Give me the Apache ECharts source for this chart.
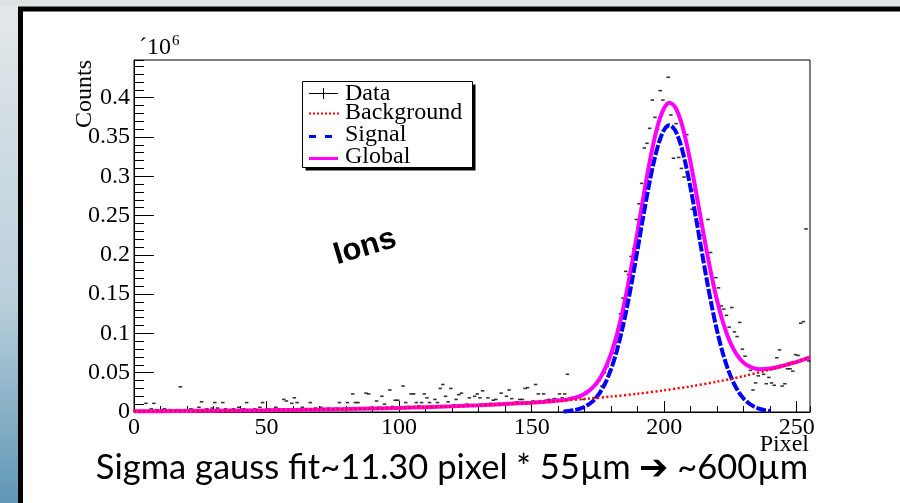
<!DOCTYPE html>
<html>
<head>
<meta charset="utf-8">
<script src="https://cdn.jsdelivr.net/npm/echarts@6/dist/echarts.min.js"></script>
<style>
html,body{margin:0;padding:0;background:#fff;}
#main{width:900px;height:503px;}
</style>
</head>
<body>
<div id="main"></div>
<script>
// counts per pixel bin (x 1e6), bins 0..254
var counts = [
 0.002,0.001,0.002,0.001,0.011,0.002,0.004,0.011,0.003,0.002,
 0.003,0.004,0.002,0.003,0.001,0.002,0.003,0.032,0.002,0.003,
 0.002,0.004,0.003,0.002,0.006,0.013,0.003,0.004,0.002,0.005,
 0.012,0.005,0.003,0.012,0.004,0.003,0.003,0.004,0.002,0.006,
 0.003,0.004,0.012,0.003,0.002,0.004,0.003,0.006,0.012,0.003,
 0.004,0.003,0.002,0.006,0.004,0.003,0.016,0.014,0.003,0.011,
 0.018,0.012,0.004,0.006,0.003,0.004,0.012,0.003,0.005,0.004,
 0.006,0.003,0.004,0.005,0.003,0.004,0.005,0.012,0.004,0.005,
 0.012,0.004,0.023,0.012,0.012,0.005,0.004,0.024,0.023,0.006,
 0.005,0.014,0.006,0.020,0.010,0.006,0.028,0.007,0.015,0.015,
 0.006,0.033,0.012,0.007,0.023,0.023,0.012,0.008,0.012,0.023,
 0.018,0.012,0.008,0.016,0.012,0.030,0.035,0.020,0.013,0.030,
 0.009,0.016,0.022,0.024,0.009,0.010,0.018,0.009,0.020,0.023,
 0.018,0.027,0.010,0.018,0.011,0.015,0.016,0.011,0.024,0.011,
 0.020,0.028,0.017,0.012,0.013,0.016,0.016,0.030,0.031,0.013,
 0.014,0.035,0.023,0.014,0.023,0.015,0.016,0.015,0.017,0.016,
 0.023,0.018,0.023,0.048,0.018,0.017,0.018,0.019,0.020,0.016,
 0.023,0.026,0.030,0.018,0.036,0.040,0.033,0.050,0.058,0.052,
 0.075,0.088,0.105,0.125,0.145,0.179,0.175,0.198,0.208,0.245,
 0.265,0.291,0.336,0.342,0.361,0.397,0.375,0.360,0.409,0.397,
 0.389,0.426,0.378,0.323,0.367,0.324,0.310,0.299,0.353,0.325,
 0.258,0.283,0.270,0.240,0.225,0.215,0.245,0.203,0.165,0.171,
 0.158,0.135,0.131,0.123,0.108,0.133,0.102,0.096,0.114,0.080,
 0.071,0.060,0.053,0.028,0.037,0.046,0.055,0.048,0.036,0.044,
 0.037,0.034,0.069,0.079,0.033,0.036,0.055,0.055,0.052,0.073,
 0.072,0.113,0.115,0.233,0.065
];

// background fit (exponential)
var bgX = [0,10,20,30,40,50,60,70,80,90,100,110,120,130,140,150,160,170,180,190,200,210,220,230,240,250,255];
var bgY = [0.00096,0.00113,0.00134,0.00159,0.00188,0.00222,0.00263,0.00311,0.00368,0.00435,0.00514,0.00609,0.00720,0.00852,0.01007,0.01191,0.01409,0.01667,0.01972,0.02333,0.02760,0.03265,0.03862,0.04569,0.05404,0.06393,0.06953];

// signal gauss (blue dashed)
var sigX = [162,164,166,168,170,172,174,176,178,180,182,184,186,188,190,192,194,196,198,200,202,204,206,208,210,212,214,216,218,220,222,224,226,228,230,232,234,236,238,240];
var sigY = [0.0007,0.0013,0.0023,0.0039,0.0066,0.0108,0.0169,0.0259,0.0383,0.0549,0.0762,0.1026,0.1340,0.1694,0.2077,0.2467,0.2841,0.3170,0.3428,0.3593,0.3650,0.3593,0.3428,0.3170,0.2841,0.2467,0.2077,0.1694,0.1340,0.1026,0.0762,0.0549,0.0383,0.0259,0.0169,0.0108,0.0066,0.0039,0.0023,0.0013];

// global fit (magenta)
var globX = [0,10,20,30,40,50,60,70,80,90,100,110,120,130,140,150,152,154,156,158,160,162,164,166,168,170,172,174,176,178,180,182,184,186,188,190,192,194,196,198,200,202,204,206,208,210,212,214,216,218,220,222,224,226,228,230,232,234,236,238,240,242,244,246,248,250,255];
var globY = [0.0010,0.0011,0.0013,0.0016,0.0019,0.0022,0.0026,0.0031,0.0037,0.0044,0.0051,0.0061,0.0072,0.0085,0.0101,0.0119,0.0123,0.0127,0.0133,0.0138,0.0145,0.0153,0.0164,0.0179,0.0200,0.0233,0.0281,0.0347,0.0443,0.0574,0.0746,0.0966,0.1237,0.1558,0.1920,0.2310,0.2708,0.3091,0.3428,0.3695,0.3869,0.3935,0.3888,0.3733,0.3486,0.3168,0.2805,0.2426,0.2055,0.1714,0.1412,0.1162,0.0962,0.0810,0.0701,0.0626,0.0581,0.0555,0.0545,0.0546,0.0553,0.0566,0.0582,0.0600,0.0620,0.0639,0.0695];

var legendNames = ['Data','Background','Signal','Global'];

var serif = 'Liberation Serif';
function pairs(xs, ys){ return xs.map(function(x,i){ return [x, ys[i]]; }); }

var chart = echarts.init(document.getElementById('main'));

var lblY = [93.5, 112.5, 135, 157];
var legendGfx = [
  {type:'rect', z:100, shape:{x:305.5,y:84.5,width:170,height:86}, style:{fill:'#000'}},
  {type:'rect', z:101, shape:{x:302.5,y:81.5,width:170,height:86}, style:{fill:'#fff',stroke:'#000',lineWidth:1}},
  // Data
  {type:'line', z:102, shape:{x1:309,y1:93.5,x2:338,y2:93.5}, style:{stroke:'#000',lineWidth:1}},
  {type:'line', z:102, shape:{x1:323.5,y1:88,x2:323.5,y2:99}, style:{stroke:'#000',lineWidth:1}},
  // Background
  {type:'line', z:102, shape:{x1:309,y1:113.5,x2:339,y2:113.5}, style:{stroke:'#ff0000',lineWidth:2,lineDash:[2,2]}},
  // Signal
  {type:'line', z:102, shape:{x1:309,y1:136.5,x2:333,y2:136.5}, style:{stroke:'#0000ff',lineWidth:3,lineDash:[7,9]}},
  // Global
  {type:'line', z:102, shape:{x1:309,y1:158.5,x2:338,y2:158.5}, style:{stroke:'#ff00ff',lineWidth:3}}
];
legendNames.forEach(function(n,i){
  legendGfx.push({type:'text', z:102, x:345, y:lblY[i], style:{text:n, font:'24px "Liberation Serif"', fill:'#000', verticalAlign:'middle', align:'left'}});
});

var option = {
  animation: false,
  backgroundColor: 'transparent',
  grid: {left:134, top:60, width:676, height:352, show:true, borderColor:'#000', borderWidth:1, backgroundColor:'transparent', outerBoundsMode:'none', containLabel:false},
  xAxis: [
    {type:'value', min:0, max:255, interval:50, position:'bottom',
     axisLine:{show:true, lineStyle:{color:'#000',width:1}},
     axisTick:{show:true, inside:true, length:11, lineStyle:{color:'#000',width:1}},
     axisLabel:{show:true, margin:4, color:'#000', fontFamily:serif, fontSize:24, showMaxLabel:false, hideOverlap:false},
     splitLine:{show:false}},
    {type:'value', min:0, max:255, interval:10, position:'bottom', offset:0,
     axisLine:{show:false},
     axisTick:{show:true, inside:true, length:6, lineStyle:{color:'#000',width:1}},
     axisLabel:{show:false}, splitLine:{show:false}}
  ],
  yAxis: [
    {type:'value', min:0, max:0.448, interval:0.05, position:'left',
     axisLine:{show:true, lineStyle:{color:'#000',width:1}},
     axisTick:{show:true, inside:true, length:20, lineStyle:{color:'#000',width:1}},
     axisLabel:{show:true, margin:4, color:'#000', fontFamily:serif, fontSize:24, showMaxLabel:false, hideOverlap:false,
       formatter:function(v){ return String(+v.toFixed(2)); }},
     splitLine:{show:false}},
    {type:'value', min:0, max:0.448, interval:0.01, position:'left', offset:0,
     axisLine:{show:false},
     axisTick:{show:true, inside:true, length:10, lineStyle:{color:'#000',width:1}},
     axisLabel:{show:false}, splitLine:{show:false}}
  ],
  series: [
    {name:'Data', type:'scatter', xAxisIndex:0, yAxisIndex:0, z:2, silent:true,
     symbol:'rect', symbolSize:[3.5,1.6], itemStyle:{color:'#000'},
     data: counts.map(function(v,i){ return [i+0.5, v]; })},
    {name:'Global', type:'line', z:3, showSymbol:false, smooth:0.3, silent:true,
     lineStyle:{color:'#ff00ff', width:4}, data: pairs(globX, globY)},
    {name:'Signal', type:'line', z:4, showSymbol:false, smooth:0.3, silent:true,
     lineStyle:{color:'#0000ff', width:4, type:[10,2]}, data: pairs(sigX, sigY)},
    {name:'Background', type:'line', z:5, showSymbol:false, smooth:0.3, silent:true,
     lineStyle:{color:'#ff0000', width:2.5, type:[2,2.5]}, data: pairs(bgX, bgY)}
  ],
  graphic: [
    // slide background and frame
    {type:'rect', z:-20, shape:{x:0,y:0,width:900,height:503},
     style:{fill:new echarts.graphic.LinearGradient(0,0,0,1,[{offset:0,color:'#e4e8ea'},{offset:0.6,color:'#b9cfdb'},{offset:1,color:'#5f97b6'}])}},
    {type:'rect', z:-19, shape:{x:0,y:0,width:900,height:6}, style:{fill:'#dfe2e3'}},
    {type:'rect', z:-18, shape:{x:20.5,y:9,width:900,height:600}, style:{fill:'#fff',stroke:'#000',lineWidth:5}},
    // axis titles
    {type:'text', x:85, y:94, rotation:Math.PI/2, style:{text:'Counts', font:'24px "Liberation Serif"', fill:'#000', align:'center', verticalAlign:'middle'}},
    {type:'text', x:139, y:48, style:{text:'\u00b410', font:'24px "Liberation Serif"', fill:'#000', align:'left', verticalAlign:'middle'}},
    {type:'text', x:172, y:41, style:{text:'6', font:'15px "Liberation Serif"', fill:'#000', align:'left', verticalAlign:'middle'}},
    {type:'text', x:809, y:445, style:{text:'Pixel', font:'24px "Liberation Serif"', fill:'#000', align:'right', verticalAlign:'middle'}},
    // annotations
    {type:'text', x:365, y:247, rotation:0.29, style:{text:'Ions', font:'bold 31px "Liberation Sans"', fill:'#000', align:'center', verticalAlign:'middle'}},
    {type:'text', x:452, y:468, style:{text:'Sigma gauss fit~11.30 pixel * 55\u00b5m \u2794 ~600\u00b5m', font:'34.5px Lato', fill:'#000', align:'center', verticalAlign:'middle'}}
  ].concat(legendGfx)
};
chart.setOption(option);
</script>
</body>
</html>
